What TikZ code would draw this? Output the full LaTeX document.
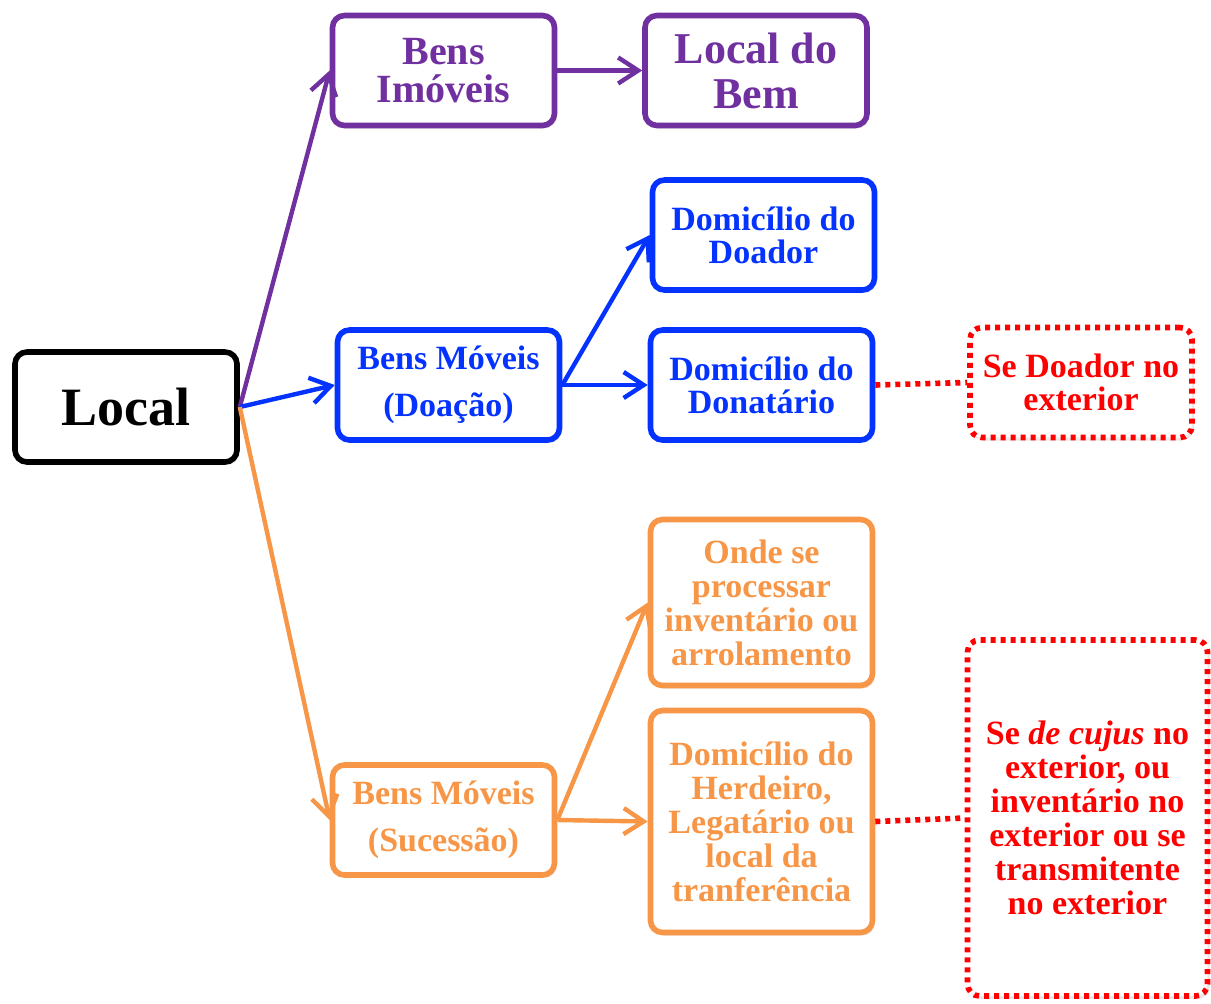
\documentclass[tikz,border=0pt]{standalone}
\usepackage{fontspec}
\setmainfont{Liberation Serif}
\usetikzlibrary{arrows.meta,shadows}
\definecolor{roxo}{HTML}{7030A0}
\definecolor{azul}{HTML}{0433FF}
\definecolor{laranja}{HTML}{F79646}
\definecolor{vermelho}{HTML}{FF0000}
\newcommand{\fs}[2]{\bfseries\fontsize{#1}{#2}\selectfont}
\begin{document}
\begin{tikzpicture}[x=0.5pt,y=-0.5pt,
    caixa/.style={draw,line width=2.8pt,rounded corners=6pt,fill=white,align=center,
      minimum width=111pt,minimum height=55pt,inner sep=2pt,
      drop shadow={shadow xshift=1pt,shadow yshift=-1.5pt,opacity=.18}},
    obs/.style={caixa,draw=vermelho,text=vermelho,dash pattern=on 2.5pt off 2.5pt},
    seta/.style={line width=2.2pt,-{Straight Barb[length=10pt,width=13pt]}},
    ponto/.style={line width=2.8pt,vermelho,dash pattern=on 2.5pt off 2.5pt}]
  \useasboundingbox (0,0) rectangle (1211,1003);
  \node[caixa,font=\fs{27}{30}] (local) at (126,407) {Local};
  \node[caixa,draw=roxo,text=roxo,font=\fs{20}{19}] (imoveis) at (443.5,70.5) {Bens\\Imóveis};
  \node[caixa,draw=roxo,text=roxo,font=\fs{22}{22.5}] (bem) at (756,70.5) {Local do\\Bem};
  \node[caixa,draw=azul,text=azul,font=\fs{17}{16.5}] (doador) at (763.5,235) {Domicílio do\\Doador};
  \node[caixa,draw=azul,text=azul,font=\fs{17}{23.5}] (doacao) at (448.5,385) {Bens Móveis\\(Doação)};
  \node[caixa,draw=azul,text=azul,font=\fs{17}{16.5}] (donatario) at (761.5,385) {Domicílio do\\Donatário};
  \node[obs,font=\fs{17}{16.5}] (sedoador) at (1081,382.5) {Se Doador no\\exterior};
  \node[caixa,draw=laranja,text=laranja,minimum height=83pt,font=\fs{17}{17}] (onde) at (761.5,602.5)
    {Onde se\\processar\\inventário ou\\arrolamento};
  \node[caixa,draw=laranja,text=laranja,minimum height=111pt,font=\fs{17}{17}] (herdeiro) at (761.5,821.5)
    {Domicílio do\\Herdeiro,\\Legatário ou\\local da\\tranferência};
  \node[caixa,draw=laranja,text=laranja,font=\fs{17}{23.5}] (sucessao) at (443.5,820) {Bens Móveis\\(Sucessão)};
  \node[obs,minimum width=120pt,minimum height=178pt,font=\fs{17}{17}] (decujus) at (1087.5,818)
    {Se \textit{de cujus} no\\exterior, ou\\inventário no\\exterior ou se\\transmitente\\no exterior};
  \foreach \a/\b/\c in {local/imoveis/roxo,imoveis/bem/roxo,local/doacao/azul,doacao/doador/azul,
      doacao/donatario/azul,local/sucessao/laranja,sucessao/onde/laranja,sucessao/herdeiro/laranja}
    \draw[seta,\c] (\a.east) -- (\b.west);
  \draw[ponto] (donatario.east) -- (sedoador.west);
  \draw[ponto] (herdeiro.east) -- (decujus.west);
\end{tikzpicture}
\end{document}
